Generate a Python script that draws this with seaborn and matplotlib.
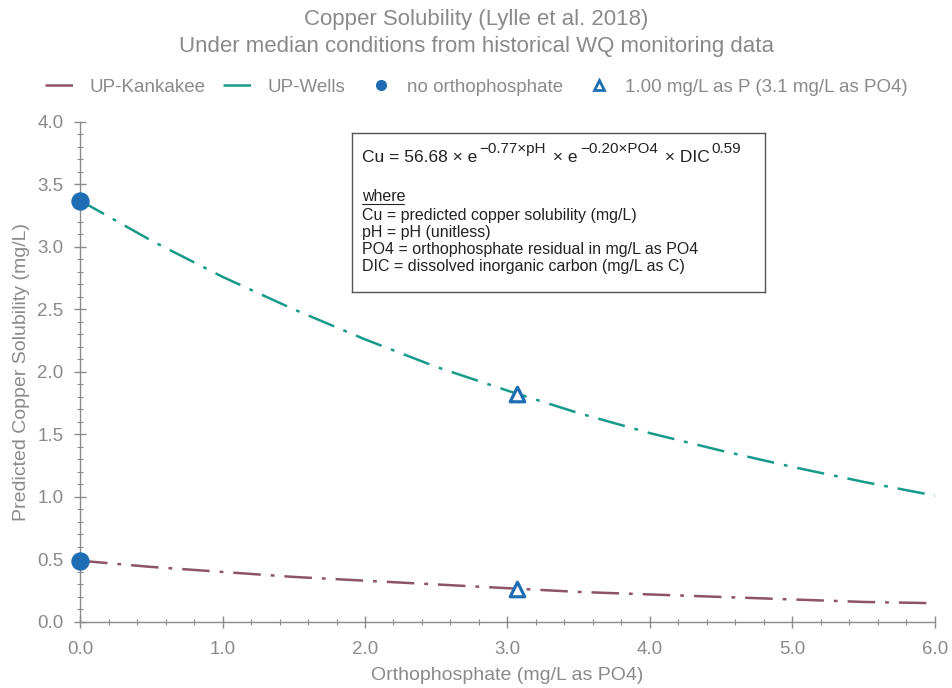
import matplotlib
matplotlib.use("Agg")
import matplotlib.pyplot as plt
import seaborn as sns
import pandas as pd
from matplotlib.lines import Line2D
from matplotlib.ticker import MultipleLocator, FormatStrFormatter
from matplotlib.transforms import offset_copy

# ---- data ----
po4 = [0.0, 0.5, 1.0, 1.5, 2.0, 2.5, 3.0, 3.5, 4.0, 4.5, 5.0, 5.5, 6.0]
cu_wells = [3.37, 3.05, 2.76, 2.50, 2.26, 2.04, 1.85, 1.67, 1.51, 1.37, 1.24, 1.12, 1.01]
cu_kankakee = [0.49, 0.44, 0.40, 0.36, 0.33, 0.30, 0.27, 0.24, 0.22, 0.20, 0.18, 0.16, 0.15]

pt_no_x = [0.0, 0.0]
pt_no_y = [3.37, 0.49]
pt_p_x = [3.07, 3.07]
pt_p_y = [1.82, 0.26]

series_names = ["UP-Kankakee", "UP-Wells"]
title_lines = ["Copper Solubility (Lylle et al. 2018)",
               "Under median conditions from historical WQ monitoring data"]

sns.set_theme(style="white")
plt.rcParams['font.family'] = ['Liberation Sans', 'DejaVu Sans']
gray = "#8a8a8a"
c_kank = "#8c5466"
c_wells = "#169a8a"
c_blue = "#1f6db3"
dash = (11, 4, 1.5, 4)

fig = plt.figure(figsize=(9.53, 6.88), dpi=100)
ax = fig.add_axes([0.084, 0.096, 0.897, 0.727])

df = pd.DataFrame({
    "x": po4 * 2,
    "y": cu_kankakee + cu_wells,
    "s": [series_names[0]] * len(po4) + [series_names[1]] * len(po4),
})
sns.lineplot(data=df, x="x", y="y", hue="s", palette=[c_kank, c_wells],
             style="s", dashes=[dash, dash],
             linewidth=1.8, ax=ax, legend=False)
ax.scatter(pt_no_x, pt_no_y, marker="o", s=150, color=c_blue, zorder=5, clip_on=False)
ax.scatter(pt_p_x, pt_p_y, marker="^", s=110, facecolor="white", edgecolor=c_blue,
           linewidth=2.3, zorder=5)

ax.set_xlim(0, 6)
ax.set_ylim(0, 4)
ax.xaxis.set_major_locator(MultipleLocator(1.0))
ax.xaxis.set_minor_locator(MultipleLocator(0.2))
ax.yaxis.set_major_locator(MultipleLocator(0.5))
ax.yaxis.set_minor_locator(MultipleLocator(0.1))
ax.xaxis.set_major_formatter(FormatStrFormatter("%.1f"))
ax.yaxis.set_major_formatter(FormatStrFormatter("%.1f"))
ax.tick_params(axis="both", which="major", direction="inout", length=8, width=1,
               color=gray, labelcolor=gray, labelsize=13.5, bottom=True, left=True)
ax.tick_params(axis="both", which="minor", direction="inout", length=4, width=0.8,
               color=gray, bottom=True, left=True)
ax.tick_params(axis="x", pad=10)
ax.tick_params(axis="y", pad=8)
for s in ["top", "right"]:
    ax.spines[s].set_visible(False)
for s in ["left", "bottom"]:
    ax.spines[s].set_color(gray)
    ax.spines[s].set_linewidth(1.0)

ax.set_xlabel("Orthophosphate (mg/L as PO4)", color=gray, fontsize=14, labelpad=6)
ax.set_ylabel("Predicted Copper Solubility (mg/L)", color=gray, fontsize=14, labelpad=5)

fig.text(0.5, 0.972, title_lines[0], ha="center", va="center", color=gray, fontsize=16)
fig.text(0.5, 0.933, title_lines[1], ha="center", va="center", color=gray, fontsize=16)

handles = [
    Line2D([], [], color=c_kank, lw=1.8, dashes=dash),
    Line2D([], [], color=c_wells, lw=1.8, dashes=dash),
    Line2D([], [], ls="none", marker="o", ms=7, color=c_blue),
    Line2D([], [], ls="none", marker="^", ms=7, mfc="white", mec=c_blue, mew=2),
]
labels = series_names + ["no orthophosphate", "1.00 mg/L as P (3.1 mg/L as PO4)"]
leg = fig.legend(handles, labels, loc="center", bbox_to_anchor=(0.5, 0.873), ncol=4,
                 frameon=False, fontsize=13.5, handlelength=2.0, columnspacing=0.9,
                 handletextpad=0.4, labelcolor=gray)

# equation box
box_ax = fig.add_axes([352 / 953, 1 - 292 / 688, (765 - 352) / 953, (292 - 133) / 688])
box_ax.set_xticks([]); box_ax.set_yticks([])
for s in box_ax.spines.values():
    s.set_color("#555555"); s.set_linewidth(1.0); s.set_visible(True)
box_ax.set_facecolor("white")
tc = "#222222"
fs = 11.5

# equation assembled from pieces with large superscripts
pieces = [("Cu = 56.68 × e", 12.5, 0), ("−0.77×pH", 11, 6), (" × e", 12.5, 0),
          ("−0.20×PO4", 11, 6), (" × DIC", 12.5, 0), ("0.59", 11, 6)]
fig.canvas.draw()
renderer = fig.canvas.get_renderer()
xoff = 0.0
for txt, size, rise in pieces:
    tr = offset_copy(box_ax.transAxes, fig=fig, x=xoff, y=rise, units="points")
    t = box_ax.text(0.025, 0.82, txt, transform=tr, fontsize=size, color=tc,
                    va="baseline")
    w = t.get_window_extent(renderer=renderer).width * 72.0 / fig.dpi
    xoff += w + 1.5

box_ax.text(0.025, 0.60, "where", transform=box_ax.transAxes, fontsize=fs, color=tc, va="center")
box_ax.plot([0.025, 0.127], [0.552, 0.552], transform=box_ax.transAxes, color=tc, lw=0.8)
lines = ["Cu = predicted copper solubility (mg/L)",
         "pH = pH (unitless)",
         "PO4 = orthophosphate residual in mg/L as PO4",
         "DIC = dissolved inorganic carbon (mg/L as C)"]
for i, t in enumerate(lines):
    box_ax.text(0.025, 0.48 - i * 0.107, t, transform=box_ax.transAxes, fontsize=fs,
                color=tc, va="center")

fig.savefig("out.png", dpi=100)
